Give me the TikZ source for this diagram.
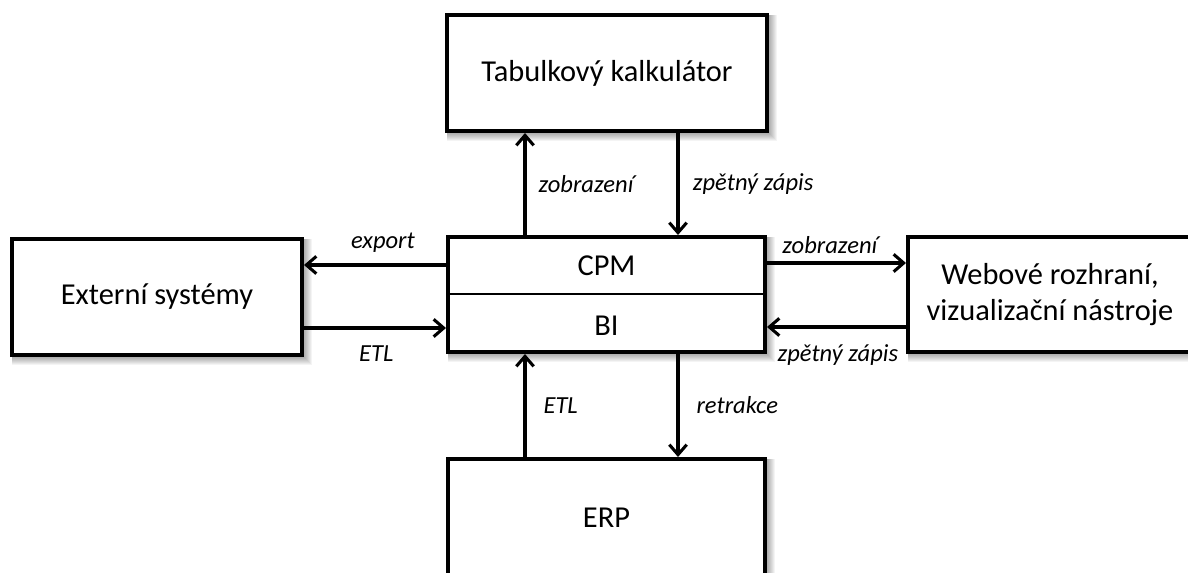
\documentclass[tikz,border=0pt]{standalone}
\usepackage{fontspec}
\setmainfont{Carlito}
\usetikzlibrary{arrows.meta,calc,backgrounds}
\begin{document}
\begin{tikzpicture}[x=0.75pt,y=-0.75pt,
  box/.style={draw=black, line width=3pt, fill=white, inner sep=0pt, align=center,
    font=\fontsize{22.8}{27.5}\selectfont},
  boxtext/.style={inner sep=0pt, font=\fontsize{22.8}{27.5}\selectfont},
  flow/.style={line width=2.3pt, -{Straight Barb[length=7.5pt,width=13pt,line width=2.3pt]}},
  lab/.style={font=\fontsize{18.4}{22}\selectfont\itshape, inner sep=0pt}]
  \useasboundingbox (0,0) rectangle (1188,573);

  % boxes
  \node[box, minimum width=240pt, minimum height=87pt] (tab) at (607,73) {Tabulkový kalkulátor};
  \node[box, minimum width=237.75pt, minimum height=86.25pt] (core) at (606.5,294.5) {};
  \node[box, minimum width=217.5pt, minimum height=87pt] (ext) at (157,297) {Externí systémy};
  \node[box, minimum width=213pt, minimum height=86.25pt] (web) at (1050,294.5) {Webové rozhraní,\\vizualizační nástroje};
  \node[box, minimum width=237.75pt, minimum height=88.5pt] (erp) at (606.5,518) {ERP};

  % page background and soft shadows behind the boxes
  \begin{scope}[on background layer]
    \fill[white] (0,0) rectangle (1188,573);
    \foreach \n in {tab,core,ext,web,erp}
      \foreach \i in {1,...,8}
        \fill[black, opacity=0.045]
          ($(\n.north west)+(2,2)$) rectangle ($(\n.south east)+(\i,\i)$);
  \end{scope}

  % two layers of the central block
  \draw[line width=1.5pt] (core.west) -- (core.east);
  \node[boxtext] (cpm) at (606.5,266) {CPM};
  \node[boxtext] (bi) at (606.5,326) {BI};

  % connector lanes
  \coordinate (xa) at (525,0);
  \coordinate (xb) at (678,0);
  \coordinate (ya) at (0,265);
  \coordinate (yb) at (0,328);
  \coordinate (yc) at (0,263);
  \coordinate (yd) at (0,327);

  % connectors
  \draw[flow] (core.north -| xa) -- node[lab, right=9pt] (l1) {zobrazení} (tab.south -| xa);
  \draw[flow] (tab.south -| xb) -- node[lab, right=10pt] (l2) {zpětný zápis} (core.north -| xb);
  \draw[flow] (core.west |- ya) -- node[lab, xshift=6pt, yshift=16.5pt] (l3) {export} (ext.east |- ya);
  \draw[flow] (ext.east |- yb) -- node[lab, xshift=1pt, yshift=-19.5pt] (l4) {ETL} (core.west |- yb);
  \draw[flow] (core.east |- yc) -- node[lab, xshift=-5pt, yshift=13.5pt] (l5) {zobrazení} (web.west |- yc);
  \draw[flow] (web.west |- yd) -- node[lab, xshift=1pt, yshift=-21pt] (l6) {zpětný zápis} (core.east |- yd);
  \draw[flow] (erp.north -| xa) -- node[lab, right=12.75pt] (l7) {ETL} (core.south -| xa);
  \draw[flow] (core.south -| xb) -- node[lab, right=12.75pt] (l8) {retrakce} (erp.north -| xb);
\end{tikzpicture}
\end{document}
